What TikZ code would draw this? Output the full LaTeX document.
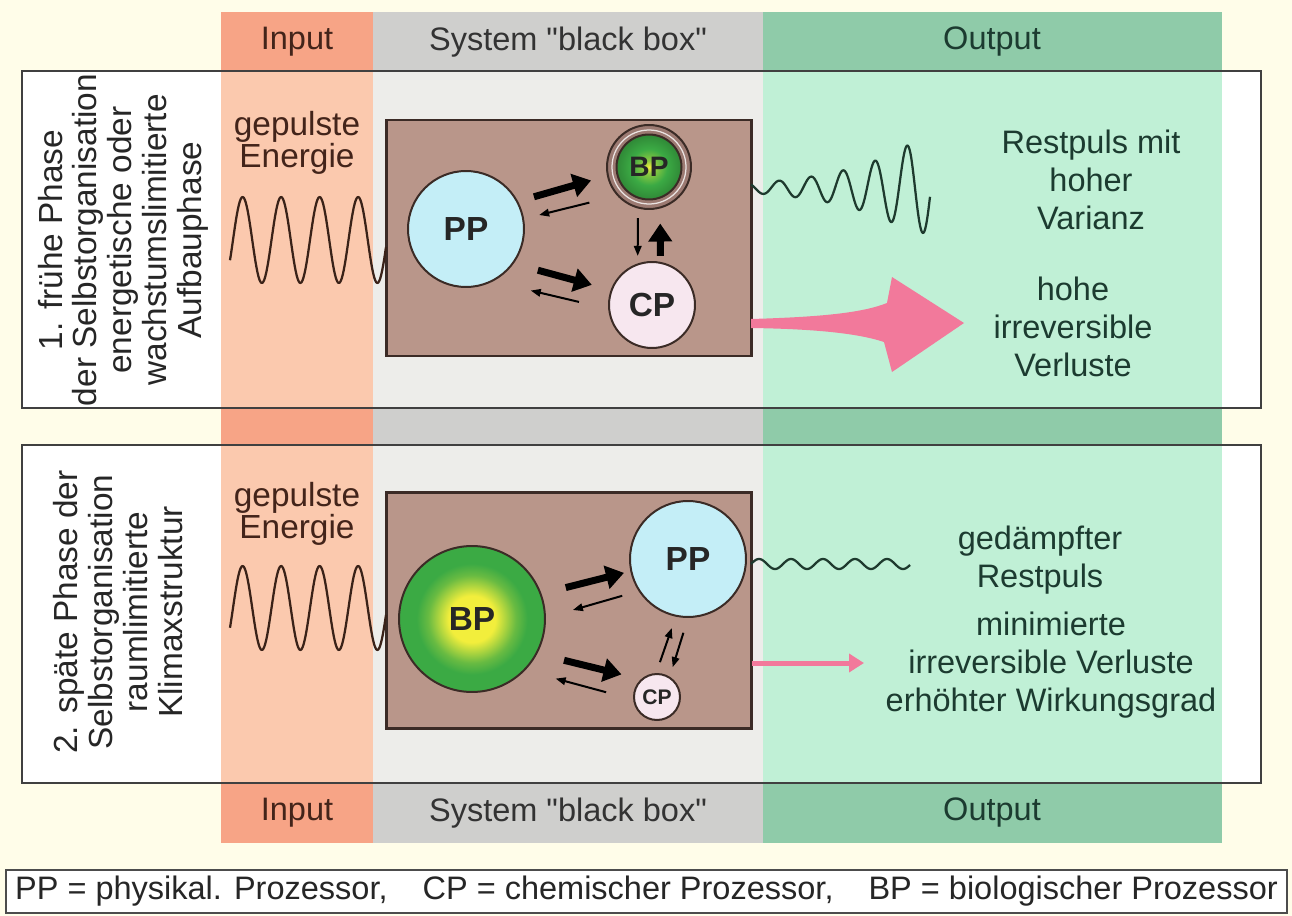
\documentclass[tikz,border=0pt]{standalone}
\usepackage{fontspec}
\setmainfont{Liberation Sans}
\usetikzlibrary{arrows.meta,positioning}

\definecolor{cream}{HTML}{FFFDE9}
\definecolor{inhdr}{HTML}{F7A486}
\definecolor{inlt}{HTML}{FBC9AE}
\definecolor{syshdr}{HTML}{CFCFCD}
\definecolor{syslt}{HTML}{EDEDEA}
\definecolor{outhdr}{HTML}{8FCBA9}
\definecolor{outlt}{HTML}{C0F0D6}
\definecolor{boxfill}{HTML}{B9968A}
\definecolor{boxline}{HTML}{3B2B26}
\definecolor{ppfill}{HTML}{C4EEF7}
\definecolor{cpfill}{HTML}{F7E7EF}
\definecolor{ringc}{HTML}{9C7A72}
\definecolor{bpgreen}{HTML}{3BAA44}
\definecolor{bpyellow}{HTML}{F2EE3C}
\definecolor{lossc}{HTML}{F2799B}
\definecolor{intext}{HTML}{43241A}
\definecolor{systext}{HTML}{333333}
\definecolor{outtext}{HTML}{1C3B30}
\definecolor{inwave}{HTML}{3A2218}
\definecolor{outwave}{HTML}{1E3A2E}

\pgfdeclareradialshading{bpbig}{\pgfpoint{0bp}{0bp}}{color(0bp)=(bpyellow); color(8bp)=(bpyellow); color(15bp)=(bpgreen!75!bpyellow); color(19bp)=(bpgreen); color(25bp)=(bpgreen); color(50bp)=(bpgreen)}
\pgfdeclareradialshading{bpsmall}{\pgfpoint{0bp}{0bp}}{color(0bp)=(bpyellow); color(5bp)=(bpgreen!55!bpyellow); color(14bp)=(bpgreen); color(25bp)=(bpgreen!80!black); color(50bp)=(bpgreen!80!black)}

\begin{document}
\begin{tikzpicture}[
  x=0.02cm, y=-0.02cm,
  lbl/.style={font=\fontsize{18.5}{21.5}\selectfont, align=center, inner sep=0pt},
  side/.style={lbl, rotate=90, font=\fontsize{19}{19.8}\selectfont, text=black!85},
  sysbox/.style={draw=boxline, line width=0.05cm, fill=boxfill, minimum width=7.3cm,
                 minimum height=4.72cm, inner sep=0pt},
  proc/.style={circle, draw=boxline, line width=0.04cm, inner sep=0pt,
               font=\fontsize{19}{20}\selectfont\bfseries, text=black!85},
  panel/.style={draw=black!75, line width=0.03cm},
  wave/.style={line width=0.045cm, line join=round},
  fwd/.style={line width=0.14cm, -{Triangle[length=0.36cm, width=0.46cm]}},
  bwd/.style={line width=0.04cm, -{Triangle[length=0.2cm, width=0.15cm]}},
]
\useasboundingbox (0,0) rectangle (1292,916);
\fill[cream] (0,0) rectangle (1292,916);

% column bands
\foreach \ya/\yb in {12/71, 408/445, 783/843} {
  \fill[inhdr]  (221,\ya) rectangle (373,\yb);
  \fill[syshdr] (373,\ya) rectangle (763,\yb);
  \fill[outhdr] (763,\ya) rectangle (1222,\yb);
}
% the two phases
\foreach \ya/\yb in {71/408, 445/783} {
  \fill[white]  (22,\ya) rectangle (1261,\yb);
  \fill[inlt]   (221,\ya) rectangle (373,\yb);
  \fill[syslt]  (373,\ya) rectangle (763,\yb);
  \fill[outlt]  (763,\ya) rectangle (1222,\yb);
  \draw[panel]  (22,\ya) rectangle (1261,\yb);
}

\foreach \yy/\nm in {42/top, 813/bot} {
  \node[lbl, text=intext]  (in\nm)  at (297,\yy) {Input};
  \node[lbl, text=systext] (sys\nm) at (568,\yy) {System \textquotedbl black box\textquotedbl};
  \node[lbl, text=outtext] (out\nm) at (992,\yy) {Output};
}

% phase 1
\node[side] (side1) at (123,240)
     {1. frühe Phase\\der Selbstorganisation\\energetische oder\\wachstumslimitierte\\Aufbauphase};
\node[lbl, text=intext, font=\fontsize{19}{18}\selectfont] (in1) at (297,143) {gepulste\\Energie};
\node[sysbox] (box1) at (569,238) {};

\node[proc, fill=ppfill, minimum size=2.32cm] (pp1) at (466,229) {PP};
\node[proc, fill=ringc, minimum size=1.68cm] (bp1) at (649,167) {};
\draw[white!80!ringc, line width=0.025cm] (bp1) circle[radius=37];
\node[proc, shading=bpsmall, minimum size=1.3cm, font=\fontsize{16}{17}\selectfont\bfseries]
     (bp1c) at (bp1) {BP};
\node[proc, fill=cpfill, minimum size=1.72cm] (cp1) at (652,305) {CP};

\draw[fwd, shorten <=0.33cm, shorten >=0.33cm] (pp1.28) -- (bp1.192);
\draw[bwd, shorten <=0.57cm, shorten >=0.31cm] (bp1.222) -- (pp1.10);
\draw[fwd, shorten <=0.5cm, shorten >=0.39cm] (pp1.324) -- (cp1.160);
\draw[bwd, shorten <=0.6cm, shorten >=0.78cm] (cp1.185) -- (pp1.297);
\draw[bwd, shorten <=0.19cm, shorten >=0.15cm] (bp1.255) -- (cp1.109);
\draw[fwd, shorten <=0.12cm, shorten >=0.3cm] (cp1.79) -- (bp1.285);

\draw[wave, inwave] plot[domain=230:386, samples=160] (\x, {240 - 43*sin((\x-233)/38.5*360)});
\draw[wave, outwave] plot[domain=751:930, samples=220]
     (\x, {188 - min(45, 5*exp(0.0137*(\x-751)))*sin((\x-739)/32*360)});

\coordinate (loss1) at (751,323);
\fill[lossc] (loss1) ++(0,-4) .. controls (820,317) and (862,313) .. (887,303) -- (892,277)
     -- (964,323) -- (892,372) -- (884,342) .. controls (860,334) and (820,329) .. (751,328) -- cycle;

\node[lbl, text=outtext] (out1a) at (1091,180) {Restpuls mit\\hoher\\Varianz};
\node[lbl, text=outtext] (out1b) at (1073,327) {hohe\\irreversible\\Verluste};

% phase 2
\node[side] (side2) at (118,612)
     {2. späte Phase der\\Selbstorganisation\\raumlimitierte\\Klimaxstruktur};
\node[lbl, text=intext, font=\fontsize{19}{18}\selectfont] (in2) at (297,514) {gepulste\\Energie};
\node[sysbox] (box2) at (569,610.5) {};

\node[proc, shading=bpbig, minimum size=2.92cm] (bp2) at (472,619) {BP};
\node[proc, fill=ppfill, minimum size=2.32cm] (pp2) at (688,559) {PP};
\node[proc, fill=cpfill, minimum size=0.92cm, font=\fontsize{12}{13}\selectfont\bfseries]
     (cp2) at (657,697) {CP};

\draw[fwd, shorten <=0.5cm, shorten >=0.13cm] (bp2.20) -- (pp2.192);
\draw[bwd, shorten <=0.34cm, shorten >=0.56cm] (pp2.213) -- (bp2.1);
\draw[fwd, shorten <=0.55cm, shorten >=0.4cm] (bp2.332) -- (cp2.132);
\draw[bwd, shorten <=0.56cm, shorten >=0.63cm] (cp2.186) -- (bp2.316);
\draw[bwd, shorten <=0.23cm, shorten >=0.24cm] (cp2.92) -- (pp2.258);
\draw[bwd, shorten <=0.31cm, shorten >=0.2cm] (pp2.270) -- (cp2.58);

\draw[wave, inwave] plot[domain=230:386, samples=160] (\x, {608 - 42*sin((\x-233)/38.5*360)});
\draw[wave, outwave] plot[domain=751:910, samples=160] (\x, {564 - 5*sin((\x-751)/32*360)});

\coordinate (loss2) at (752,663);
\coordinate (loss2end) at (864,663);
\draw[lossc, line width=0.1cm, -{Triangle[length=0.3cm, width=0.36cm]}] (loss2) -- (loss2end);

\node[lbl, text=outtext] (out2a) at (1040,560) {gedämpfter\\Restpuls};
\node[lbl, text=outtext] (out2b) at (1051,665)
     {minimierte\\irreversible Verluste\\erhöhter Wirkungsgrad};

% legend
\node[draw=black!70, line width=0.03cm, fill=white, minimum width=25.62cm, minimum height=0.86cm,
      inner sep=0pt, font=\fontsize{18.5}{20}\selectfont, text=black!85] (legend) at (646.5,891.5)
     {PP = physikal. Prozessor,\hspace{0.8em} CP = chemischer Prozessor,\hspace{0.8em} BP = biologischer Prozessor};
\end{tikzpicture}
\end{document}
